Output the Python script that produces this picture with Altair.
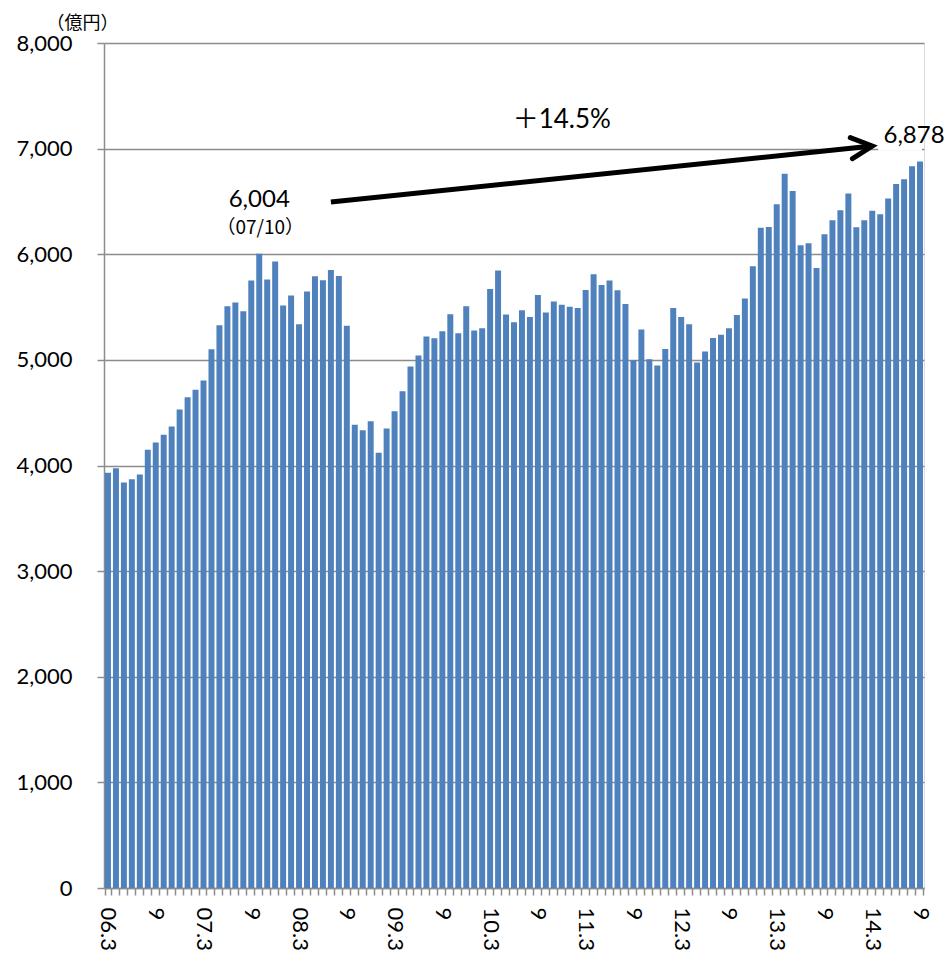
import altair as alt
import pandas as pd

# monthly values (億円), 2006.3 - 2014.9
years_months = [(y, m) for y in range(2006, 2015) for m in range(1, 13)
                if (y, m) >= (2006, 3) and (y, m) <= (2014, 9)]
months = [f"{y % 100:02d}.{m}" for (y, m) in years_months]

values = [
    3931, 3975, 3839, 3871, 3915, 4148, 4218, 4290, 4369, 4530,            # 2006.3-12
    4647, 4716, 4804, 5101, 5328, 5508, 5543, 5461, 5751, 6004, 5760, 5931,  # 2007
    5514, 5609, 5338, 5647, 5792, 5754, 5852, 5795, 5322, 4385, 4334, 4420,  # 2008
    4120, 4350, 4514, 4703, 4937, 5041, 5221, 5205, 5271, 5432, 5252, 5508,  # 2009
    5278, 5300, 5672, 5845, 5429, 5356, 5470, 5407, 5615, 5448, 5552, 5521,  # 2010
    5502, 5492, 5662, 5811, 5710, 5751, 5659, 5530, 4997, 5287, 5006, 4946,  # 2011
    5104, 5492, 5407, 5338, 4975, 5079, 5208, 5237, 5300, 5426, 5580, 5886,  # 2012
    6252, 6259, 6473, 6763, 6599, 6085, 6104, 5871, 6189, 6322, 6416, 6574,  # 2013
    6256, 6322, 6413, 6379, 6527, 6666, 6710, 6833, 6878,                    # 2014.1-9
]

y_ticks = [0, 1000, 2000, 3000, 4000, 5000, 6000, 7000, 8000]

peak_month, peak_value, peak_note = "07.10", 6004, "（07/10）"
last_month, last_value = "14.9", 6878
growth_label = "＋14.5%"
arrow_start = ("08.7", 6494)
arrow_end = ("14.3", 7025)
growth_pos = ("10.12", 7270)
label_mask = ("14.4", "14.9", 7000)   # gridline hidden behind the "6,878" label

df = pd.DataFrame({"month": months, "value": values})

FONT = "Lato, Noto Sans CJK JP"
CJK = "Noto Sans CJK JP"
GRID = "#8c8c8c"

x_scale = alt.Scale(domain=months, paddingInner=0.25, paddingOuter=0.125)

x_enc = alt.X(
    "month:N", title=None, scale=x_scale,
    axis=alt.Axis(
        labelAngle=90, labelAlign="left", labelBaseline="middle",
        tickBand="extent", tickSize=7, tickColor=GRID, tickWidth=1.5,
        domainColor=GRID, domainWidth=1.5, labelPadding=12,
        labelFont=FONT, labelFontSize=22, labelColor="black",
        labelOverlap=False, labelBound=False,
        labelExpr="split(datum.value,'.')[1]=='3' ? datum.value : (split(datum.value,'.')[1]=='9' ? '9' : '')",
    ),
)

y_enc = alt.Y(
    "value:Q",
    scale=alt.Scale(domain=[0, 8000], nice=False),
    axis=alt.Axis(
        values=y_ticks, format=",d", grid=True, gridColor=GRID, gridWidth=1.5,
        tickSize=7, tickColor=GRID, tickWidth=1.5, domainColor=GRID, domainWidth=1.5,
        labelPadding=25, labelFont=FONT, labelFontSize=22, labelColor="black",
        title="（億円）", titleAngle=0, titleX=-22, titleY=-20,
        titleAlign="center", titleBaseline="middle",
        titleFont=CJK, titleFontSize=18, titleFontWeight="normal",
        titleColor="black",
    ),
)


def xa(field="month"):
    return alt.X(f"{field}:N", scale=x_scale)


bars = alt.Chart(df).mark_bar(color="#4F81BD").encode(x=x_enc, y=y_enc)

mask_df = pd.DataFrame({"month": [label_mask[0]], "month2": [label_mask[1]],
                        "value": [label_mask[2]]})
mask = alt.Chart(mask_df).mark_rule(color="white", strokeWidth=4, strokeCap="square").encode(
    x=xa(), x2="month2:N", y="value:Q",
)

arrow_df = pd.DataFrame({
    "month": [arrow_start[0]], "month2": [arrow_end[0]],
    "value": [arrow_start[1]], "value2": [arrow_end[1]],
})
arrow_line = alt.Chart(arrow_df).mark_rule(color="black", strokeWidth=5).encode(
    x=xa(), x2="month2:N", y="value:Q", y2="value2:Q",
)

head_df = pd.DataFrame({"month": [arrow_end[0]], "value": [arrow_end[1]]})
arrow_head = alt.Chart(head_df).mark_point(
    shape="M-2,-1L0,0L-2,1", filled=False, stroke="black", strokeWidth=5,
    size=441, angle=354.1, opacity=1, strokeCap="round", strokeJoin="miter",
).encode(x=xa(), y="value:Q")

peak_df = pd.DataFrame({"month": [peak_month], "value": [peak_value],
                        "label": [f"{peak_value:,}"], "note": [peak_note]})
peak_text = alt.Chart(peak_df).mark_text(
    font=FONT, fontSize=24, dy=-54, color="black", baseline="middle"
).encode(x=xa(), y="value:Q", text="label:N")
peak_note_text = alt.Chart(peak_df).mark_text(
    font=CJK, fontSize=19, dy=-26, dx=1, color="black", baseline="middle"
).encode(x=xa(), y="value:Q", text="note:N")

last_df = pd.DataFrame({"month": [last_month], "value": [last_value],
                        "label": [f"{last_value:,}"]})
last_text = alt.Chart(last_df).mark_text(
    font=FONT, fontSize=24, dy=-26, dx=-6, color="black", baseline="middle"
).encode(x=xa(), y="value:Q", text="label:N")

growth_df = pd.DataFrame({"month": [growth_pos[0]], "value": [growth_pos[1]],
                          "label": [growth_label]})
growth_text = alt.Chart(growth_df).mark_text(
    font=FONT, fontSize=26, color="black", baseline="middle"
).encode(x=xa(), y="value:Q", text="label:N")

chart = alt.layer(
    bars, mask, arrow_line, arrow_head, peak_text, peak_note_text, last_text, growth_text
).properties(
    width=820, height=845,
    autosize=alt.AutoSizeParams(type="none"),
    padding={"left": 96, "top": 35, "right": 20, "bottom": 66},
).configure_view(strokeWidth=0).configure(background="white")

chart.save("out.html", embed_options={"renderer": "svg", "actions": False})
